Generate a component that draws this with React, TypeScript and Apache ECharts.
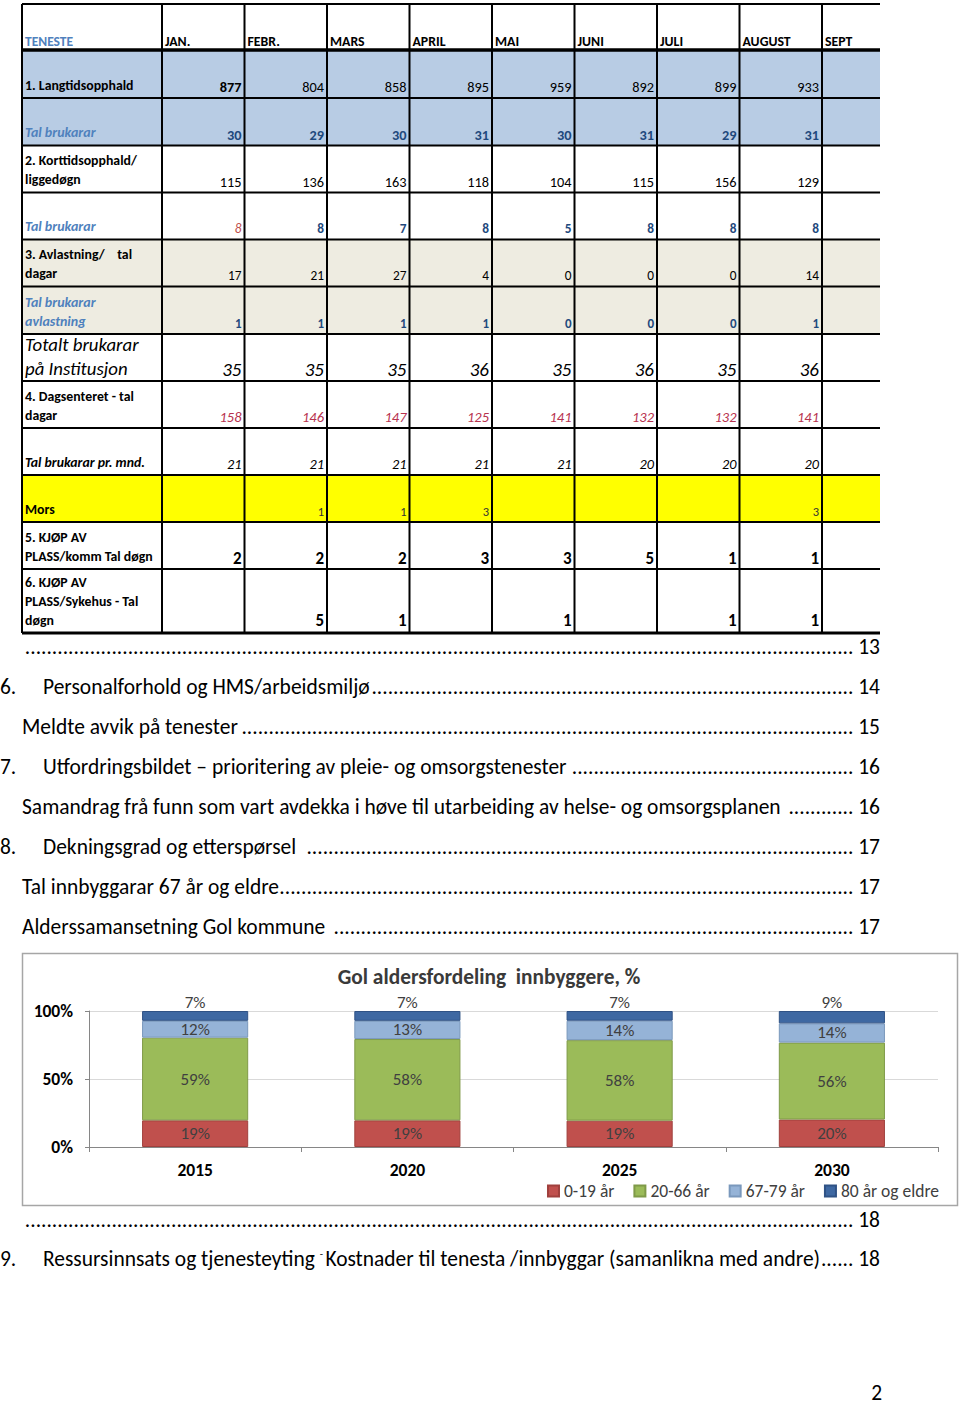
import React, { useEffect, useRef } from "react";
import * as echarts from "echarts";

// ---------- DATA ----------
const monthHeaders = ["JAN.", "FEBR.", "MARS", "APRIL", "MAI", "JUNI", "JULI", "AUGUST", "SEPT"];
const langtidsopphald = [877, 804, 858, 895, 959, 892, 899, 933];
const langtidBrukarar = [30, 29, 30, 31, 30, 31, 29, 31];
const korttidsopphald = [115, 136, 163, 118, 104, 115, 156, 129];
const korttidBrukarar = [8, 8, 7, 8, 5, 8, 8, 8];
const avlastningDagar = [17, 21, 27, 4, 0, 0, 0, 14];
const avlastningBrukarar = [1, 1, 1, 1, 0, 0, 0, 1];
const totaltBrukarar = [35, 35, 35, 36, 35, 36, 35, 36];
const dagsenterDagar = [158, 146, 147, 125, 141, 132, 132, 141];
const brukararPrMnd = [21, 21, 21, 21, 21, 20, 20, 20];
const mors = [null, 1, 1, 3, null, null, null, 3];
const kjopKomm = [2, 2, 2, 3, 3, 5, 1, 1];
const kjopSykehus = [null, 5, 1, null, 1, null, 1, 1];

const tocNumbers = ["", "6.", "", "7.", "", "8.", "", "", "", "9."];
const tocTitles = [
  "",
  "Personalforhold og HMS/arbeidsmiljø",
  "Meldte avvik på tenester",
  "Utfordringsbildet – prioritering av pleie- og omsorgstenester ",
  "Samandrag frå funn som vart avdekka i høve til utarbeiding av helse- og omsorgsplanen ",
  "Dekningsgrad og etterspørsel ",
  "Tal innbyggarar 67 år og eldre",
  "Alderssamansetning Gol kommune ",
  "",
  "Ressursinnsats og tjenesteyting {sup|- }Kostnader til tenesta /innbyggar (samanlikna med andre)",
];
const tocPages = ["13", "14", "15", "16", "16", "17", "17", "17", "18", "18"];
const pageNumber = "2";

const chartTitle = "Gol aldersfordeling  innbyggere, %";
const years = ["2015", "2020", "2025", "2030"];
const ageGroups = ["0-19 år", "20-66 år", "67-79 år", "80 år og eldre"];
const age0to19 = [19, 19, 19, 20];
const age20to66 = [59, 58, 58, 56];
const age67to79 = [12, 13, 14, 14];
const age80plus = [7, 7, 7, 9];

// ---------- STYLE / LAYOUT ----------
const FONT = "Carlito, Lato, 'Noto Sans', sans-serif";
const BLUE_FILL = "#B8CCE4";
const BEIGE_FILL = "#EEECE1";
const YELLOW_FILL = "#FFFF00";
const LABEL_BLUE = "#4F81BD";
const NAVY = "#1F497D";
const RED = "#C0504D";
const CRIMSON = "#B8334F";
const COL_X = [22, 162, 244.5, 327, 409.5, 492, 574.5, 657, 739.5, 822, 880];
const ROW_Y = [4, 50, 98, 145.5, 192.5, 239.5, 286.5, 334, 381, 428, 475, 522, 569, 633];
const TOC_Y = [647, 687, 727, 767, 807, 847, 887, 927, 1220, 1259];
const AGE_COLORS = ["#C0504D", "#9BBB59", "#95B3D7", "#3E68A2"];
const AGE_BORDERS = ["#A0403D", "#7F9A48", "#7A98BC", "#2F5285"];

let measureCtx: CanvasRenderingContext2D | null = null;
function measure(text: string, font: string) {
  if (!measureCtx) measureCtx = document.createElement("canvas").getContext("2d");
  measureCtx!.font = font;
  return measureCtx!.measureText(text).width;
}

function txt(x: number, y: number, text: string, s: any) {
  const align = s.align || "left";
  const va = s.verticalAlign || "middle";
  return {
    type: "text",
    x,
    y,
    silent: true,
    style: {
      text,
      fontFamily: FONT,
      fontSize: s.fontSize || 13,
      fontWeight: s.fontWeight || "normal",
      fontStyle: s.fontStyle || "normal",
      fill: s.fill || "#000",
      lineHeight: s.lineHeight,
      align,
      textAlign: align,
      verticalAlign: va,
      textVerticalAlign: va,
      rich: s.rich,
    },
  };
}

function buildTable() {
  const els: any[] = [];
  const bold = { fontWeight: "bold", fontSize: 13.8 };
  const blueLabel = { fontWeight: "bold", fontStyle: "italic", fontSize: 14, fill: LABEL_BLUE };
  const rows: any[] = [
    { label: ["1. Langtidsopphald"], ls: bold, values: langtidsopphald, vs: { fontSize: 14.3 }, fill: BLUE_FILL, cell: { 0: { fontWeight: "bold" } } },
    { label: ["Tal brukarar"], ls: blueLabel, values: langtidBrukarar, vs: { fontSize: 14.3, fontWeight: "bold", fill: NAVY }, fill: BLUE_FILL },
    { label: ["2. Korttidsopphald/", "liggedøgn"], ls: bold, values: korttidsopphald, vs: { fontSize: 14.3 } },
    { label: ["Tal brukarar"], ls: blueLabel, values: korttidBrukarar, vs: { fontSize: 13.3, fontWeight: "bold", fill: NAVY }, cell: { 0: { fontWeight: "normal", fontStyle: "italic", fill: RED } } },
    { label: ["3. Avlastning/    tal", "dagar"], ls: bold, values: avlastningDagar, vs: { fontSize: 13.3 }, fill: BEIGE_FILL },
    { label: ["Tal brukarar", "avlastning"], ls: blueLabel, values: avlastningBrukarar, vs: { fontSize: 13, fontWeight: "bold", fill: NAVY }, fill: BEIGE_FILL },
    { label: ["Totalt brukarar", "på Institusjon"], ls: { fontStyle: "italic", fontSize: 18.8, lineHeight: 24 }, values: totaltBrukarar, vs: { fontSize: 19, fontStyle: "italic" }, vOff: 12 },
    { label: ["4. Dagsenteret - tal", "dagar"], ls: bold, values: dagsenterDagar, vs: { fontSize: 14.5, fontStyle: "italic", fill: CRIMSON } },
    { label: ["Tal brukarar pr. mnd."], ls: { fontWeight: "bold", fontStyle: "italic", fontSize: 13.8 }, values: brukararPrMnd, vs: { fontSize: 14.3, fontStyle: "italic" } },
    { label: ["Mors"], ls: bold, values: mors, vs: { fontSize: 12.5, fill: "#333" }, fill: YELLOW_FILL },
    { label: ["5. KJØP AV", "PLASS/komm Tal døgn"], ls: bold, values: kjopKomm, vs: { fontSize: 17, fontWeight: "bold" } },
    { label: ["6. KJØP AV", "PLASS/Sykehus - Tal", "døgn"], ls: bold, values: kjopSykehus, vs: { fontSize: 17, fontWeight: "bold" }, vOff: 13 },
  ];
  const left = COL_X[0];
  const right = COL_X[COL_X.length - 1];
  // fills
  rows.forEach((r, i) => {
    if (r.fill) {
      els.push({ type: "rect", silent: true, shape: { x: left, y: ROW_Y[i + 1], width: right - left, height: ROW_Y[i + 2] - ROW_Y[i + 1] }, style: { fill: r.fill } });
    }
  });
  // header
  els.push(txt(COL_X[0] + 3, ROW_Y[1] - 9, "TENESTE", { fontWeight: "bold", fontSize: 13.5, fill: LABEL_BLUE }));
  monthHeaders.forEach((m, j) => {
    els.push(txt(COL_X[j + 1] + 3, ROW_Y[1] - 9, m, { fontWeight: "bold", fontSize: 13.8 }));
  });
  // rows
  rows.forEach((r, i) => {
    const bottom = ROW_Y[i + 2];
    const lh = r.ls.lineHeight || 19;
    els.push(
      txt(COL_X[0] + 3, bottom - 13 + lh / 2, r.label.join("\n"), { ...r.ls, lineHeight: lh, verticalAlign: "bottom" })
    );
    r.values.forEach((v: any, j: number) => {
      if (v === null || v === undefined) return;
      const s = { ...r.vs, ...(r.cell && r.cell[j] ? r.cell[j] : {}), align: "right" };
      els.push(txt(COL_X[j + 2] - 3, bottom - (r.vOff || 11), String(v), s));
    });
  });
  // lines
  const top = ROW_Y[0];
  const bot = ROW_Y[ROW_Y.length - 1];
  ROW_Y.forEach((y, i) => {
    const w = i === 1 ? 3.5 : i === ROW_Y.length - 1 ? 3 : 2;
    els.push({ type: "line", silent: true, shape: { x1: left, y1: y, x2: right, y2: y }, style: { stroke: "#000", lineWidth: w } });
  });
  COL_X.slice(0, COL_X.length - 1).forEach((x) => {
    els.push({ type: "line", silent: true, shape: { x1: x, y1: top, x2: x, y2: bot }, style: { stroke: "#000", lineWidth: 2 } });
  });
  return els;
}

function buildToc() {
  const els: any[] = [];
  const target = 759;
  const ref = tocTitles[4].trim();
  const fs = (20 * target) / measure(ref, `20px ${FONT}`);
  const font = `${fs}px ${FONT}`;
  const supFs = fs * 0.5;
  const dotW = measure(".", font);
  const spaceW = measure(" ", font);
  const endX = 880;
  tocTitles.forEach((title, i) => {
    const y = TOC_Y[i];
    const num = tocNumbers[i];
    const x = num ? 43 : 22;
    if (num) els.push(txt(0, y, num, { fontSize: fs, fill: "#000" }));
    let titleW = 0;
    if (title) {
      if (title.indexOf("{sup|") >= 0) {
        const m = title.match(/^(.*)\{sup\|(.*?)\}(.*)$/)!;
        titleW = measure(m[1], font) + measure(m[2], `${supFs}px ${FONT}`) + measure(m[3], font);
        els.push(
          txt(x, y, title, {
            fontSize: fs,
            rich: { sup: { fontSize: supFs, fontFamily: FONT, verticalAlign: "top", lineHeight: fs, fill: "#000" } },
          })
        );
      } else {
        titleW = measure(title, font);
        els.push(txt(x, y, title, { fontSize: fs }));
      }
    }
    const page = tocPages[i];
    const pageW = measure(page, font);
    els.push(txt(endX, y, page, { fontSize: fs, align: "right" }));
    const dotsEnd = endX - pageW - spaceW;
    const n = Math.max(0, Math.floor((dotsEnd - (x + titleW)) / dotW));
    els.push(txt(dotsEnd, y, ".".repeat(n), { fontSize: fs, align: "right" }));
  });
  els.push(txt(882, 1393, pageNumber, { fontSize: fs, align: "right" }));
  return els;
}

function buildOption() {
  const raws = [age0to19, age20to66, age67to79, age80plus];
  const totals = years.map((_, j) => raws.reduce((s, a) => s + a[j], 0));
  const titleFs = (19 * 303) / measure(chartTitle, `bold 19px ${FONT}`);
  const series = raws.map((arr, i) => ({
    name: ageGroups[i],
    type: "bar",
    stack: "alder",
    barWidth: "50%",
    data: arr.map((v, j) => (v / totals[j]) * 100),
    itemStyle: { color: AGE_COLORS[i], borderColor: AGE_BORDERS[i], borderWidth: 1 },
    label: {
      show: true,
      position: i === 3 ? "top" : "inside",
      distance: 0,
      formatter: (p: any) => `${arr[p.dataIndex]}%`,
      color: "#404040",
      fontSize: 17,
      fontFamily: FONT,
    },
  }));

  return {
    animation: false,
    backgroundColor: "#fff",
    title: {
      text: chartTitle,
      left: 489,
      top: 966,
      padding: 0,
      textAlign: "center",
      textStyle: { fontFamily: FONT, fontSize: titleFs, fontWeight: "bold", color: "#3A3A3A", lineHeight: titleFs },
    },
    legend: {
      data: ageGroups,
      right: 16,
      top: 1177,
      icon: "rect",
      itemWidth: 11,
      itemHeight: 11,
      itemGap: 19,
      textStyle: { fontFamily: FONT, fontSize: 17.5, color: "#404040" },
    },
    grid: { left: 89, right: 22, top: 1011, bottom: 258, containLabel: false },
    xAxis: {
      type: "category",
      data: years,
      axisLine: { lineStyle: { color: "#868686", width: 1 } },
      axisTick: { show: true, length: 5, lineStyle: { color: "#868686" } },
      axisLabel: { fontFamily: FONT, fontSize: 17.5, fontWeight: "bold", color: "#000", margin: 14 },
    },
    yAxis: {
      type: "value",
      min: 0,
      max: 100,
      interval: 50,
      axisLine: { show: true, lineStyle: { color: "#868686" } },
      axisTick: { show: true, length: 4, lineStyle: { color: "#868686" } },
      splitLine: { lineStyle: { color: "#D9D9D9" } },
      axisLabel: { formatter: "{value}%", fontFamily: FONT, fontSize: 17.5, fontWeight: "bold", color: "#000", margin: 16 },
    },
    series,
    graphic: {
      elements: [
        ...buildTable(),
        ...buildToc(),
        {
          type: "rect",
          silent: true,
          z: -10,
          shape: { x: 22.5, y: 953.5, width: 935, height: 252 },
          style: { fill: "none", stroke: "#A6A6A6", lineWidth: 1.5 },
        },
      ],
    },
  };
}

export default function App() {
  const ref = useRef<HTMLDivElement>(null);
  useEffect(() => {
    const chart = echarts.init(ref.current!, null, { renderer: "svg" });
    chart.setOption(buildOption() as any);
    return () => chart.dispose();
  }, []);
  return <div ref={ref} style={{ position: "absolute", left: 0, top: 0, width: 960, height: 1405 }} />;
}
